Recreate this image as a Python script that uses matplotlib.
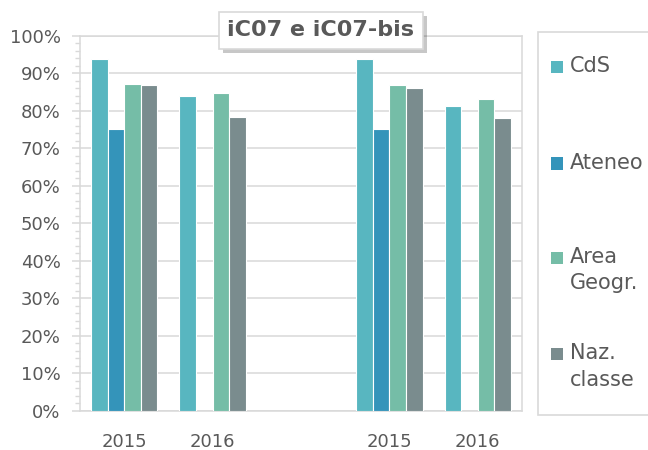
import numpy as np
import matplotlib
matplotlib.use('Agg')
import matplotlib.pyplot as plt
import matplotlib.patheffects as pe
from matplotlib.patches import Rectangle
from matplotlib.ticker import MultipleLocator, PercentFormatter

# dati (in %)
categories = ['2015', '2016', '', '2015', '2016']
cds = [93.8, 84.0, np.nan, 93.8, 81.4]
ateneo = [75.1, np.nan, np.nan, 75.1, np.nan]
area = [87.3, 84.8, np.nan, 86.9, 83.1]
naz = [86.9, 78.5, np.nan, 86.1, 78.0]

series = [cds, ateneo, area, naz]
labels = ['CdS', 'Ateneo', 'Area\nGeogr.', 'Naz.\nclasse']
colors = ['#58B6C0', '#3494BA', '#75BDA7', '#7A8C8E']

grey = '#D9D9D9'
text_col = '#595959'

fig = plt.figure(figsize=(6.48, 4.5), dpi=100)
ax = fig.add_axes([0.1235, 0.0867, 0.682, 0.8333])

x = np.arange(len(categories))
w = 0.1875
for i, (vals, c) in enumerate(zip(series, colors)):
    ax.bar(x + (i - 1.5) * w, vals, w, color=c, edgecolor='white',
           linewidth=0.8, zorder=3)

ax.set_xlim(-0.5, len(categories) - 0.5)
ax.set_ylim(0, 100)
ax.set_xticks(x)
ax.set_xticklabels(categories)
ax.yaxis.set_major_locator(MultipleLocator(10))
ax.yaxis.set_minor_locator(MultipleLocator(2))
ax.yaxis.set_major_formatter(PercentFormatter(decimals=0))
ax.grid(axis='y', color=grey, linewidth=1.1, zorder=0)
ax.tick_params(axis='y', which='major', length=6, width=1.1, color=grey,
               labelsize=13, labelcolor=text_col, pad=8)
ax.tick_params(axis='y', which='minor', length=3.5, width=1, color=grey)
ax.tick_params(axis='x', length=0, labelsize=13, labelcolor=text_col, pad=16)
for s in ax.spines.values():
    s.set_color(grey)
    s.set_linewidth(1.1)

# titolo con ombra
t = fig.text(0.495, 0.933, 'iC07 e iC07-bis', ha='center', va='center',
             fontsize=16, fontweight='bold', color=text_col,
             bbox=dict(boxstyle='square,pad=0.38', fc='white', ec=grey, lw=1.2))
t.get_bbox_patch().set_path_effects([
    pe.withSimplePatchShadow(offset=(3, -3), shadow_rgbFace='black', alpha=0.22)])

# legenda
fig.patches.append(Rectangle((0.830, 0.078), 0.25, 0.851, transform=fig.transFigure,
                             fc='white', ec=grey, lw=1.2))
leg_y = [0.851, 0.636, 0.427, 0.213]
for yy, lab, c in zip(leg_y, labels, colors):
    fig.patches.append(Rectangle((0.850, yy - 0.013), 0.019, 0.027,
                                 transform=fig.transFigure, fc=c, ec='none'))
    fig.text(0.879, yy + 0.024, lab, ha='left', va='top', fontsize=15,
             color=text_col, linespacing=1.4)

fig.savefig('out.png', dpi=100)
